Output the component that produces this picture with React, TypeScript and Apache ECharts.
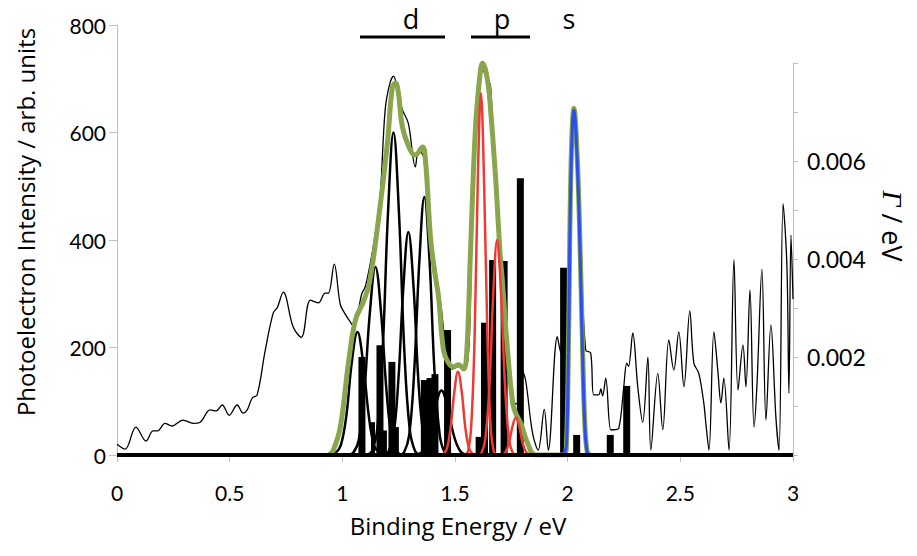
import React, { useEffect, useRef } from "react";
import * as echarts from "echarts";

// ---------- data ----------
const xRange = [0, 3];
const leftRange = [0, 800];
const rightRange = [0, 0.008];
const rightLabelTicks = [0.002, 0.004, 0.006];

// measured photoelectron spectrum (thin black)
const spectrum: [number, number][] = [
  [0, 20], [0.036, 11], [0.084, 52], [0.129, 26], [0.16, 45], [0.18, 45], [0.213, 59], [0.244, 54],
  [0.293, 65], [0.338, 59], [0.369, 61], [0.413, 84], [0.44, 82], [0.467, 93], [0.498, 74], [0.533, 93],
  [0.56, 78], [0.578, 84], [0.6, 106], [0.622, 112], [0.658, 195], [0.693, 264], [0.711, 274], [0.738, 303],
  [0.782, 238], [0.818, 219], [0.858, 288], [0.893, 283], [0.924, 301], [0.938, 301], [0.964, 355], [0.991, 280],
  [1.013, 262], [1.036, 247], [1.05, 240], [1.087, 301], [1.102, 313], [1.13, 370], [1.155, 437], [1.169, 487],
  [1.19, 642], [1.21, 690], [1.227, 705], [1.245, 680], [1.267, 642], [1.293, 617], [1.324, 536], [1.338, 567],
  [1.36, 555], [1.39, 420], [1.42, 330], [1.44, 270], [1.46, 200], [1.49, 160], [1.52, 165], [1.55, 165],
  [1.58, 480], [1.6, 640], [1.622, 715], [1.645, 700], [1.658, 685], [1.671, 567], [1.69, 420], [1.71, 300],
  [1.735, 180], [1.756, 99], [1.775, 95], [1.795, 160], [1.813, 140], [1.844, 41], [1.869, 9], [1.896, 85],
  [1.914, 9], [1.954, 220], [1.97, 190], [1.99, 250], [2.006, 381], [2.028, 640], [2.058, 381], [2.08, 195],
  [2.102, 190], [2.116, 112], [2.138, 112], [2.147, 123], [2.155, 110], [2.169, 143], [2.191, 47], [2.205, 47],
  [2.227, 50], [2.249, 127], [2.262, 171], [2.27, 165], [2.289, 227], [2.311, 127], [2.333, 61], [2.356, 182],
  [2.369, 9], [2.4, 152], [2.422, 47], [2.449, 214], [2.471, 158], [2.493, 229], [2.516, 127], [2.542, 268],
  [2.56, 171], [2.582, 152], [2.604, 97], [2.613, 60], [2.627, 9], [2.649, 229], [2.667, 154], [2.68, 97],
  [2.693, 143], [2.716, 9], [2.738, 363], [2.756, 121], [2.778, 205], [2.791, 127], [2.809, 307], [2.827, 52],
  [2.84, 130], [2.862, 346], [2.88, 65], [2.902, 242], [2.924, 71], [2.938, 9], [2.956, 467], [2.973, 352],
  [2.982, 115], [2.991, 409], [3.0, 290],
];

// fitted sum (green)
const envelope: [number, number][] = [
  [0.94, 0], [0.96, 9], [0.991, 52], [1.027, 171], [1.058, 251], [1.093, 285], [1.12, 320], [1.16, 437],
  [1.2, 580], [1.222, 685], [1.236, 692], [1.249, 673], [1.267, 610], [1.302, 567], [1.324, 558], [1.356, 573],
  [1.369, 549], [1.391, 406], [1.41, 340], [1.427, 294], [1.449, 195], [1.471, 171], [1.493, 164], [1.516, 168],
  [1.538, 160], [1.552, 190], [1.569, 381], [1.591, 610], [1.613, 716], [1.622, 729], [1.644, 698], [1.658, 642],
  [1.68, 517], [1.693, 424], [1.702, 363], [1.711, 320], [1.733, 195], [1.756, 97], [1.769, 78], [1.791, 60],
  [1.822, 22], [1.858, 0], [1.985, 0], [1.995, 25], [2.004, 220], [2.015, 540], [2.028, 645], [2.042, 560],
  [2.055, 390], [2.066, 200], [2.076, 60], [2.087, 5], [2.1, 0],
];

// d-band components (black)
const dPeak1: [number, number][] = [[0.943, 0], [0.968, 3], [0.993, 18], [1.018, 74], [1.042, 173], [1.067, 229], [1.092, 173], [1.117, 74], [1.141, 18], [1.166, 3], [1.191, 0]];
const dPeak2: [number, number][] = [[1.023, 0], [1.048, 4], [1.073, 28], [1.097, 114], [1.122, 264], [1.147, 350], [1.172, 264], [1.197, 114], [1.221, 28], [1.246, 4], [1.271, 0]];
const dPeak3: [number, number][] = [[1.107, 0], [1.131, 7], [1.155, 48], [1.179, 195], [1.203, 453], [1.227, 600], [1.251, 453], [1.275, 195], [1.299, 48], [1.323, 7], [1.347, 0]];
const dPeak4: [number, number][] = [[1.181, 0], [1.203, 5], [1.226, 33], [1.248, 135], [1.271, 313], [1.293, 415], [1.316, 313], [1.338, 135], [1.361, 33], [1.383, 5], [1.406, 0]];
const dPeak5: [number, number][] = [[1.252, 0], [1.274, 5], [1.297, 38], [1.319, 156], [1.342, 362], [1.364, 480], [1.387, 362], [1.409, 156], [1.432, 38], [1.454, 5], [1.477, 0]];
const dPeak6: [number, number][] = [[1.309, 0], [1.335, 1], [1.361, 10], [1.388, 39], [1.414, 91], [1.44, 120], [1.466, 91], [1.493, 39], [1.519, 10], [1.545, 1], [1.571, 0]];

// p-band components (red)
const pPeak1: [number, number][] = [[1.431, 0], [1.447, 2], [1.464, 12], [1.48, 50], [1.497, 117], [1.513, 155], [1.53, 117], [1.546, 50], [1.563, 12], [1.579, 2], [1.596, 0]];
const pPeak2: [number, number][] = [[1.544, 0], [1.558, 7], [1.572, 54], [1.587, 219], [1.601, 508], [1.615, 673], [1.629, 508], [1.644, 219], [1.658, 54], [1.672, 7], [1.686, 0]];
const pPeak3: [number, number][] = [[1.601, 0], [1.618, 4], [1.635, 32], [1.653, 130], [1.67, 302], [1.687, 400], [1.704, 302], [1.722, 130], [1.739, 32], [1.756, 4], [1.773, 0]];
const pPeak4: [number, number][] = [[1.695, 0], [1.71, 1], [1.725, 6], [1.74, 23], [1.755, 53], [1.77, 70], [1.785, 53], [1.8, 23], [1.815, 6], [1.83, 1], [1.845, 0]];

// s-band component (blue)
const sPeak: [number, number][] = [[1.985, 0], [1.995, 20], [2.004, 210], [2.015, 530], [2.028, 642], [2.042, 550], [2.055, 380], [2.066, 190], [2.076, 55], [2.087, 4], [2.1, 0]];

// Gamma / eV sticks (right axis)
const gammaWide: [number, number][] = [
  [1.087, 0.002], [1.167, 0.00224], [1.22, 0.0019], [1.364, 0.00153], [1.389, 0.00157], [1.411, 0.00165],
  [1.467, 0.00255], [1.607, 0.00037], [1.631, 0.0027], [1.667, 0.00398], [1.718, 0.00396], [1.79, 0.00565],
  [1.982, 0.00382], [2.04, 0.00041], [2.189, 0.00041], [2.262, 0.00141],
];
const gammaNarrow: [number, number][] = [[1.136, 0.00067], [1.189, 0.0005], [1.242, 0.00057]];

const TICK_FONT = "Lato, 'Open Sans', sans-serif";
const TITLE_FONT = "'Open Sans', 'Noto Sans', sans-serif";
const AXIS_GRAY = "#bfbfbf";

export default function App() {
  const ref = useRef<HTMLDivElement>(null);
  useEffect(() => {
    if (!ref.current) return;
    const chart = echarts.init(ref.current, undefined, { renderer: "svg" });
    const lineSeries = (data: [number, number][], color: string, width: number, smooth: number | boolean = 0.4) => ({
      type: "line",
      xAxisIndex: 0,
      yAxisIndex: 0,
      data,
      smooth,
      showSymbol: false,
      symbol: "none",
      lineStyle: { color, width },
      itemStyle: { color },
      silent: true,
    });
    const option: any = {
      animation: false,
      backgroundColor: "#fff",
      grid: [
        { left: 117, right: 124, top: 25, bottom: 101 },
        { left: 117, right: 124, top: 63, bottom: 101 },
      ],
      xAxis: [
        {
          gridIndex: 0, type: "value", min: xRange[0], max: xRange[1], interval: 0.5,
          axisLine: { show: true, lineStyle: { color: AXIS_GRAY, width: 1 } },
          axisTick: { show: true, length: 7, lineStyle: { color: AXIS_GRAY } },
          splitLine: { show: false },
          axisLabel: { margin: 27, fontSize: 21, color: "#000", fontFamily: TICK_FONT },
        },
        { gridIndex: 1, type: "value", min: xRange[0], max: xRange[1], show: false },
        { gridIndex: 1, type: "value", min: xRange[0], max: xRange[1], show: false, position: "top" },
      ],
      yAxis: [
        {
          gridIndex: 0, type: "value", min: leftRange[0], max: leftRange[1], interval: 200,
          axisLine: { show: true, onZero: false, lineStyle: { color: AXIS_GRAY } },
          axisTick: { show: true, length: 8, lineStyle: { color: AXIS_GRAY } },
          splitLine: { show: false },
          axisLabel: { margin: 11, fontSize: 21, color: "#000", fontFamily: TICK_FONT },
        },
        {
          gridIndex: 1, type: "value", position: "right", min: rightRange[0], max: rightRange[1], interval: 0.001,
          axisLine: { show: true, onZero: false, lineStyle: { color: AXIS_GRAY } },
          axisTick: { show: true, length: 5, lineStyle: { color: AXIS_GRAY } },
          splitLine: { show: false },
          axisLabel: {
            margin: 14, fontSize: 23, color: "#000", fontFamily: TICK_FONT,
            formatter: (v: number) => (rightLabelTicks.some((t) => Math.abs(t - v) < 1e-9) ? v.toFixed(3) : ""),
          },
        },
      ],
      series: [
        lineSeries(spectrum, "#000", 1.3, 0.35),
        lineSeries(dPeak1, "#000", 2.5),
        lineSeries(dPeak2, "#000", 2.5),
        lineSeries(dPeak3, "#000", 2.5),
        lineSeries(dPeak4, "#000", 2.5),
        lineSeries(dPeak5, "#000", 2.5),
        lineSeries(dPeak6, "#000", 2.5),
        lineSeries(envelope, "#8aa64c", 5, 0.4),
        lineSeries(pPeak1, "#ec3b35", 2.5),
        lineSeries(pPeak2, "#ec3b35", 2.5),
        lineSeries(pPeak3, "#ec3b35", 2.5),
        lineSeries(pPeak4, "#ec3b35", 2.5),
        lineSeries(sPeak, "#2a4ff0", 3),
        lineSeries([[xRange[0], 0], [xRange[1], 0]], "#000", 4, false),
        {
          type: "bar", xAxisIndex: 1, yAxisIndex: 1, data: gammaWide, barWidth: 7,
          itemStyle: { color: "#000" }, silent: true,
        },
        {
          type: "bar", xAxisIndex: 2, yAxisIndex: 1, data: gammaNarrow, barWidth: 4,
          itemStyle: { color: "#000" }, silent: true,
        },
      ],
      graphic: [
        {
          type: "text", x: 25, y: 222, rotation: Math.PI / 2,
          style: { text: "Photoelectron Intensity / arb. units", fontSize: 24, fontFamily: TITLE_FONT, fill: "#000", align: "center", verticalAlign: "middle" },
        },
        {
          type: "text", x: 458, y: 525,
          style: { text: "Binding Energy / eV", fontSize: 24, fontFamily: TITLE_FONT, fill: "#000", align: "center", verticalAlign: "middle" },
        },
        {
          type: "text", x: 892, y: 226, rotation: -Math.PI / 2,
          style: {
            text: "{i|Γ}{n| / eV}", fontSize: 27, fontFamily: TITLE_FONT, fill: "#000", align: "center", verticalAlign: "middle",
            rich: {
              i: { fontStyle: "italic", fontSize: 28, fontFamily: "'Liberation Serif', serif", fill: "#000" },
              n: { fontSize: 27, fontFamily: TITLE_FONT, fill: "#000" },
            },
          },
        },
        { type: "text", x: 411, y: 18, style: { text: "d", fontSize: 27, fontFamily: TITLE_FONT, fill: "#000", align: "center", verticalAlign: "middle" } },
        { type: "text", x: 502, y: 18, style: { text: "p", fontSize: 27, fontFamily: TITLE_FONT, fill: "#000", align: "center", verticalAlign: "middle" } },
        { type: "text", x: 569, y: 18, style: { text: "s", fontSize: 27, fontFamily: TITLE_FONT, fill: "#000", align: "center", verticalAlign: "middle" } },
        { type: "line", shape: { x1: 360, y1: 37, x2: 445, y2: 37 }, style: { stroke: "#000", lineWidth: 3 } },
        { type: "line", shape: { x1: 471, y1: 37, x2: 530, y2: 37 }, style: { stroke: "#000", lineWidth: 3 } },
      ],
    };
    chart.setOption(option);
    return () => chart.dispose();
  }, []);
  return <div ref={ref} style={{ position: "absolute", left: 0, top: 0, width: 917, height: 556 }} />;
}
